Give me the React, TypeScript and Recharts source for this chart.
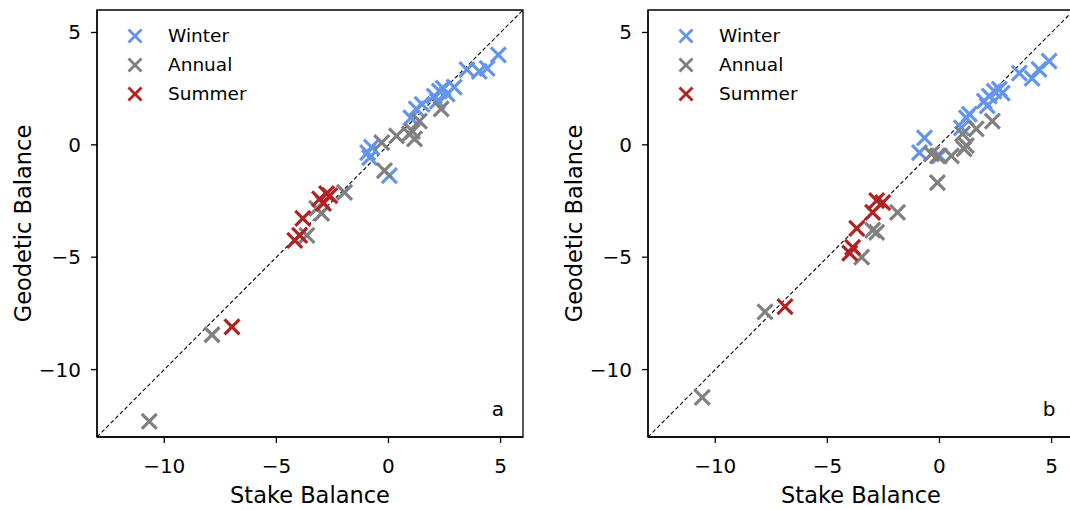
import { ScatterChart, Scatter, XAxis, YAxis, ReferenceLine, ReferenceArea } from "recharts";

// stake balance (x) vs geodetic balance (y), panel a
const winterA = [
  { x: 4.9, y: 4.0 }, { x: 4.4, y: 3.4 }, { x: 4.05, y: 3.27 }, { x: 3.5, y: 3.35 },
  { x: 2.04, y: 2.17 }, { x: 2.27, y: 2.39 }, { x: 2.44, y: 2.52 }, { x: 2.62, y: 2.26 },
  { x: 2.18, y: 1.95 }, { x: 2.93, y: 2.57 }, { x: 1.5, y: 1.8 }, { x: 1.24, y: 1.6 },
  { x: 1.0, y: 1.2 }, { x: -0.93, y: -0.35 }, { x: -0.76, y: -0.1 }, { x: -0.84, y: -0.57 },
  { x: 0.04, y: -1.37 },
];
const annualA = [
  { x: 2.35, y: 1.6 }, { x: 1.38, y: 1.06 }, { x: 1.07, y: 0.6 }, { x: 0.93, y: 0.49 },
  { x: 1.16, y: 0.27 }, { x: 0.36, y: 0.4 }, { x: -0.3, y: 0.1 }, { x: -0.18, y: -1.15 },
  { x: -1.96, y: -2.12 }, { x: -2.98, y: -3.05 }, { x: -3.2, y: -2.83 }, { x: -3.64, y: -4.03 },
  { x: -7.87, y: -8.45 }, { x: -10.67, y: -12.3 },
];
const summerA = [
  { x: -2.76, y: -2.17 }, { x: -3.07, y: -2.4 }, { x: -2.62, y: -2.26 }, { x: -2.9, y: -2.6 },
  { x: -3.82, y: -3.27 }, { x: -3.96, y: -4.03 }, { x: -4.18, y: -4.25 }, { x: -6.98, y: -8.1 },
];

// panel b
const winterB = [
  { x: 4.89, y: 3.72 }, { x: 4.44, y: 3.36 }, { x: 4.13, y: 2.96 }, { x: 3.56, y: 3.19 },
  { x: 2.0, y: 1.95 }, { x: 2.22, y: 2.17 }, { x: 2.44, y: 2.39 }, { x: 2.67, y: 2.48 },
  { x: 2.13, y: 1.73 }, { x: 2.8, y: 2.3 }, { x: 1.33, y: 1.37 }, { x: 1.2, y: 1.2 },
  { x: 0.98, y: 0.75 }, { x: -0.67, y: 0.31 }, { x: -0.89, y: -0.35 }, { x: 0.0, y: -0.49 },
];
const annualB = [
  { x: 2.36, y: 1.06 }, { x: 1.64, y: 0.71 }, { x: 1.03, y: 0.49 }, { x: 1.2, y: -0.04 },
  { x: 1.1, y: -0.18 }, { x: 0.53, y: -0.49 }, { x: -0.09, y: -0.49 }, { x: -0.36, y: -0.4 },
  { x: -0.09, y: -1.68 }, { x: -1.87, y: -3.0 }, { x: -2.98, y: -3.8 }, { x: -2.8, y: -3.9 },
  { x: -3.47, y: -5.0 }, { x: -7.78, y: -7.43 }, { x: -10.58, y: -11.24 },
];
const summerB = [
  { x: -2.53, y: -2.57 }, { x: -2.8, y: -2.48 }, { x: -2.98, y: -3.0 }, { x: -3.69, y: -3.72 },
  { x: -3.87, y: -4.56 }, { x: -4.0, y: -4.82 }, { x: -6.89, y: -7.2 },
];

const seasons = ["Winter", "Annual", "Summer"];
const LIMITS: [number, number] = [-13, 6];
const TICKS = [-10, -5, 0, 5];

const COLORS: Record<string, string> = {
  Winter: "#6495ED",
  Annual: "#808080",
  Summer: "#B22222",
};
const FONT = "'DejaVu Sans', sans-serif";

const fmt = (v: number) => (v < 0 ? `\u2212${-v}` : `${v}`);

function Cross(props: any) {
  const { cx, cy, fill } = props;
  const r = 7.5;
  return (
    <g stroke={fill} strokeWidth={3.2}>
      <line x1={cx - r} y1={cy - r} x2={cx + r} y2={cy + r} />
      <line x1={cx - r} y1={cy + r} x2={cx + r} y2={cy - r} />
    </g>
  );
}

function XTick({ x, y, payload }: any) {
  return (
    <text x={x} y={y + 28} textAnchor="middle" fontSize={20} fontFamily={FONT} fill="#000">
      {fmt(payload.value)}
    </text>
  );
}

function YTick({ x, y, payload }: any) {
  return (
    <text x={x - 8} y={y + 7} textAnchor="end" fontSize={20} fontFamily={FONT} fill="#000">
      {fmt(payload.value)}
    </text>
  );
}

function LegendBox() {
  return (
    <div style={{ position: "absolute", left: 126, top: 21, fontFamily: FONT, fontSize: 18.5 }}>
      {seasons.map((s) => (
        <div key={s} style={{ display: "flex", alignItems: "center", height: 29 }}>
          <svg width={18} height={18} style={{ marginRight: 24 }}>
            <g stroke={COLORS[s]} strokeWidth={2.8}>
              <line x1={2.5} y1={2.5} x2={15.5} y2={15.5} />
              <line x1={2.5} y1={15.5} x2={15.5} y2={2.5} />
            </g>
          </svg>
          <span>{s}</span>
        </div>
      ))}
    </div>
  );
}

interface PanelProps {
  winter: { x: number; y: number }[];
  annual: { x: number; y: number }[];
  summer: { x: number; y: number }[];
  letter: string;
  left: number;
}

function Panel({ winter, annual, summer, letter, left }: PanelProps) {
  const series = [
    { name: "Winter", data: winter },
    { name: "Annual", data: annual },
    { name: "Summer", data: summer },
  ];
  return (
    <div style={{ position: "absolute", left, top: 0, width: 560, height: 510 }}>
      <ScatterChart width={560} height={510} margin={{ top: 10, right: 37, bottom: 0, left: 37 }}>
        <XAxis
          type="number"
          dataKey="x"
          domain={LIMITS}
          ticks={TICKS}
          allowDataOverflow
          height={73}
          tickSize={6}
          tick={<XTick />}
          stroke="#000"
          strokeWidth={1.3}
          label={({ viewBox }: any) => (
            <text
              x={viewBox.x + viewBox.width / 2}
              y={viewBox.y + 66}
              textAnchor="middle"
              fontSize={22.5}
              fontFamily={FONT}
              fill="#000"
            >
              Stake Balance
            </text>
          )}
        />
        <YAxis
          type="number"
          dataKey="y"
          domain={LIMITS}
          ticks={TICKS}
          allowDataOverflow
          width={60}
          tickSize={6}
          tick={<YTick />}
          stroke="#000"
          strokeWidth={1.3}
          label={({ viewBox }: any) => {
            const cx = 31;
            const cy = viewBox.y + viewBox.height / 2;
            return (
              <text
                x={cx}
                y={cy}
                transform={`rotate(-90, ${cx}, ${cy})`}
                textAnchor="middle"
                fontSize={22.5}
                fontFamily={FONT}
                fill="#000"
              >
                Geodetic Balance
              </text>
            );
          }}
        />
        <ReferenceLine
          segment={[
            { x: LIMITS[0], y: LIMITS[0] },
            { x: LIMITS[1], y: LIMITS[1] },
          ]}
          stroke="#000"
          strokeWidth={1.1}
          strokeDasharray="4 2.5"
        />
        {series.map((s) => (
          <Scatter
            key={s.name}
            name={s.name}
            data={s.data}
            fill={COLORS[s.name]}
            shape={<Cross />}
            isAnimationActive={false}
          />
        ))}
        <ReferenceArea
          x1={LIMITS[0]}
          x2={LIMITS[1]}
          y1={LIMITS[0]}
          y2={LIMITS[1]}
          fill="none"
          fillOpacity={0}
          stroke="#000"
          strokeWidth={1.3}
          label={({ viewBox }: any) => (
            <text
              x={viewBox.x + 401}
              y={viewBox.y + viewBox.height - 21}
              textAnchor="middle"
              fontSize={20}
              fontFamily={FONT}
              fill="#000"
            >
              {letter}
            </text>
          )}
        />
      </ScatterChart>
      <LegendBox />
    </div>
  );
}

export default function App() {
  return (
    <div
      style={{
        position: "absolute",
        left: 0,
        top: 0,
        width: 1070,
        height: 510,
        overflow: "hidden",
        background: "#fff",
      }}
    >
      <Panel winter={winterA} annual={annualA} summer={summerA} letter="a" left={0} />
      <Panel winter={winterB} annual={annualB} summer={summerB} letter="b" left={551} />
    </div>
  );
}
